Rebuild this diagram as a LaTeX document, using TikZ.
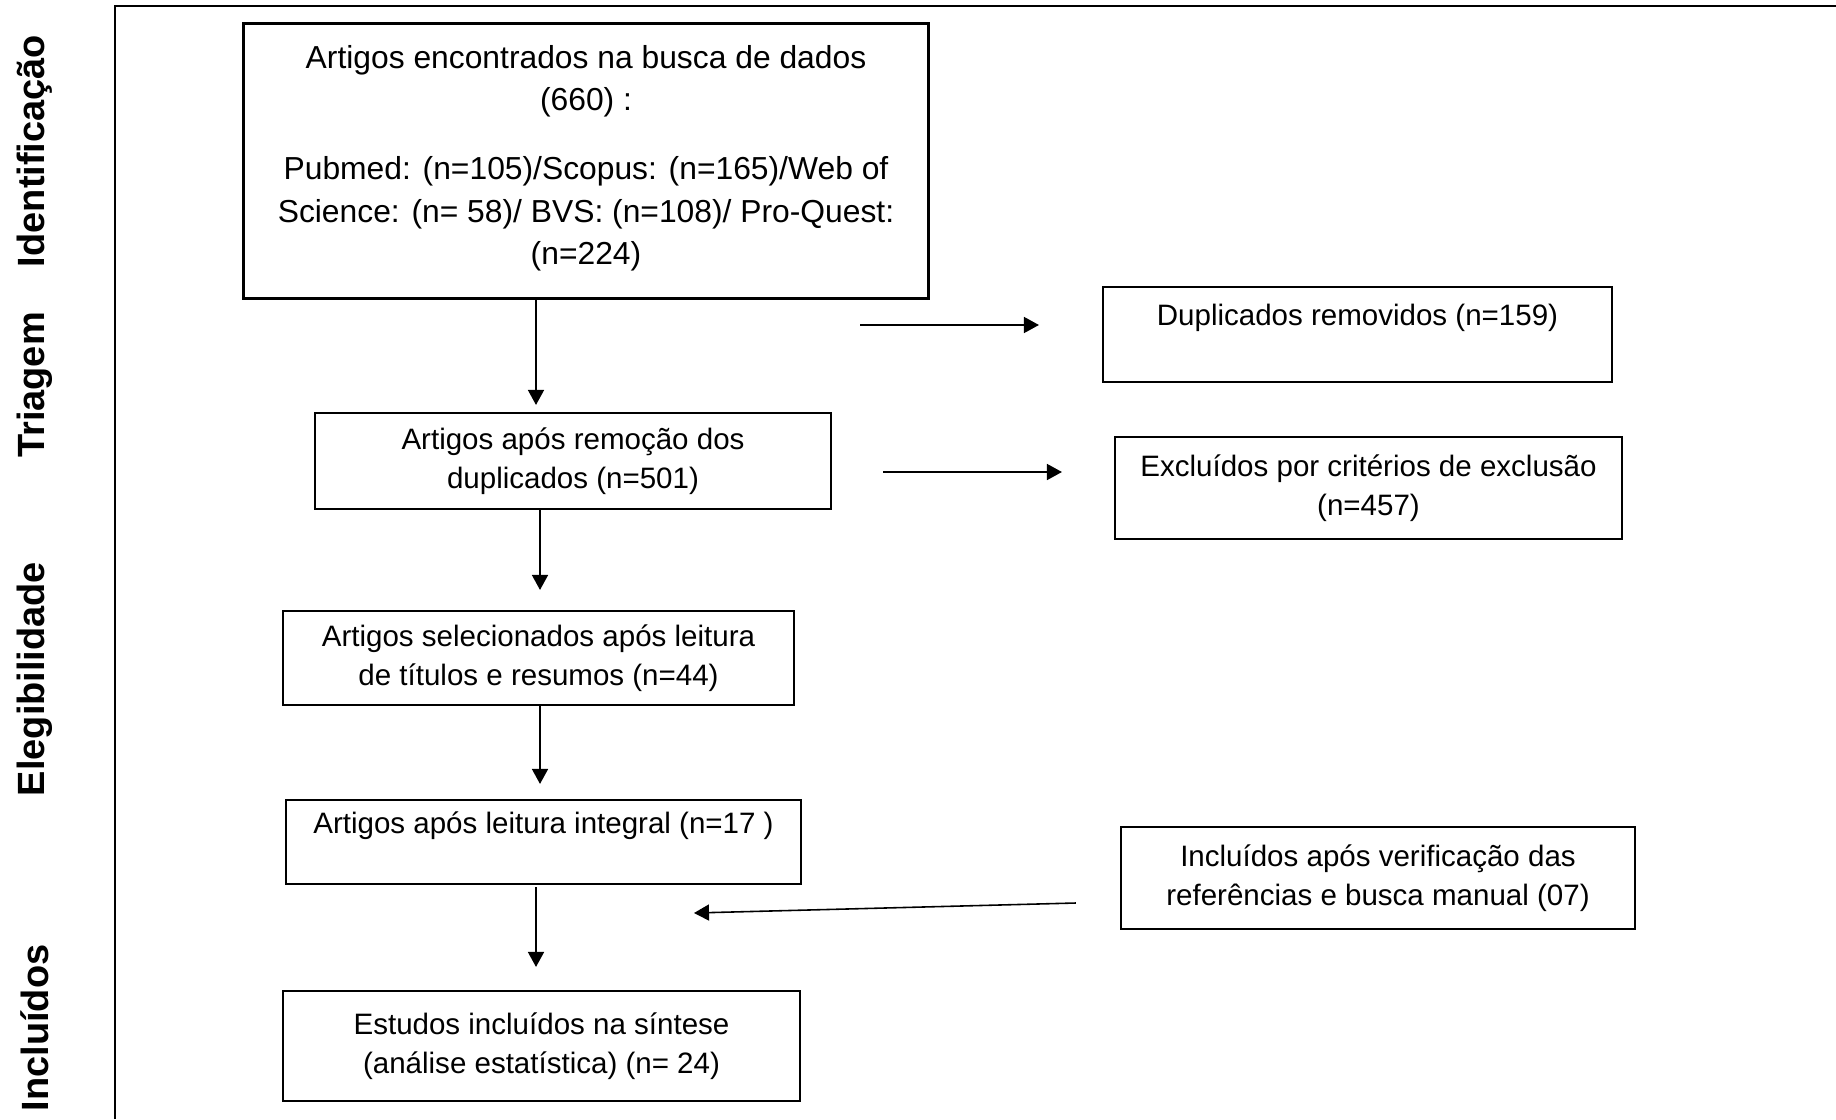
\documentclass[tikz,border=0pt]{standalone}
\usepackage{fontspec}
\setmainfont{Liberation Sans}
\usepackage{tikz}
\usetikzlibrary{arrows.meta,positioning}

\tikzset{
  stagebox/.style={draw=black,line width=0.6pt,align=center,inner sep=0pt,font=\fontsize{8.4}{11}\selectfont},
  flowarrow/.style={line width=0.45pt,-{Triangle[length=1.5mm,width=1.6mm]}},
  phaselabel/.style={rotate=90,inner sep=0pt,font=\fontsize{10.8}{12}\selectfont\bfseries},
}

\begin{document}
\begin{tikzpicture}[x=1cm,y=1cm]
      \useasboundingbox (0,0) rectangle (18.36,11.19);
      % frame
      \draw[line width=0.85pt] (1.15,0) -- (1.15,11.13) -- (18.36,11.13);
      % phases
      \node[phaselabel] (phIdent) at (0.35,9.68) {Identificação};
      \node[phaselabel] (phTriag) at (0.35,7.34) {Triagem};
      \node[phaselabel] (phEleg) at (0.35,4.40) {Elegibilidade};
      \node[phaselabel] (phIncl) at (0.35,0.91) {Incluídos};
      % left column
      \node[stagebox,minimum width=6.85cm,minimum height=2.75cm,font=\fontsize{9.05}{12}\selectfont] (busca) at (5.86,9.58)
        {Artigos encontrados na busca de dados\\(660) :\\[0.27cm]Pubmed: (n=105)/Scopus: (n=165)/Web of\\Science: (n= 58)/ BVS: (n=108)/ Pro-Quest:\\(n=224)\\[-0.30cm]\mbox{}};
      \node[stagebox,minimum width=5.16cm,minimum height=0.96cm] (remo) at (5.73,6.58) {Artigos após remoção dos\\duplicados (n=501)};
      \node[stagebox,minimum width=5.11cm,minimum height=0.94cm] (selec) at (5.385,4.61) {Artigos selecionados após leitura\\de títulos e resumos (n=44)};
      \node[stagebox,minimum width=5.15cm,minimum height=0.84cm] (integ) at (5.435,2.77) {Artigos após leitura integral (n=17 )\\\mbox{}};
      \node[stagebox,minimum width=5.17cm,minimum height=1.10cm] (sintese) at (5.415,0.73) {Estudos incluídos na síntese\\(análise estatística) (n= 24)};
      % right column
      \node[stagebox,minimum width=5.09cm,minimum height=0.95cm] (dupl) at (13.575,7.845) {Duplicados removidos (n=159)\\\mbox{}};
      \node[stagebox,minimum width=5.07cm,minimum height=1.02cm] (excl) at (13.685,6.31) {Excluídos por critérios de exclusão\\(n=457)};
      \node[stagebox,minimum width=5.14cm,minimum height=1.02cm] (manual) at (13.78,2.41) {Incluídos após verificação das\\referências e busca manual (07)};
      % arrows down
      \coordinate (colA) at (5.36,0);
      \coordinate (colB) at (5.40,0);
      \draw[flowarrow,shorten >=0.07cm] (busca.south -| colA) -- (remo.north -| colA);
      \draw[flowarrow,shorten >=0.20cm] (remo.south -| colB) -- (selec.north -| colB);
      \draw[flowarrow,shorten >=0.15cm] (selec.south -| colB) -- (integ.north -| colB);
      \draw[flowarrow,shorten <=0.02cm,shorten >=0.23cm] (integ.south -| colA) -- (sintese.north -| colA);
      % arrows sideways
      \coordinate (dupTail) at (8.60,7.94);
      \draw[flowarrow,shorten >=0.63cm] (dupTail) -- (dupTail -| dupl.west);
      \coordinate (excTail) at (8.83,6.47);
      \draw[flowarrow,shorten >=0.52cm] (excTail) -- (excTail -| excl.west);
      \coordinate (manTail) at ([shift={(-0.44,-0.25)}]manual.west);
      \coordinate (manHead) at (6.94,2.06);
      \draw[flowarrow] (manTail) -- (manHead);
    \end{tikzpicture}
\end{document}
